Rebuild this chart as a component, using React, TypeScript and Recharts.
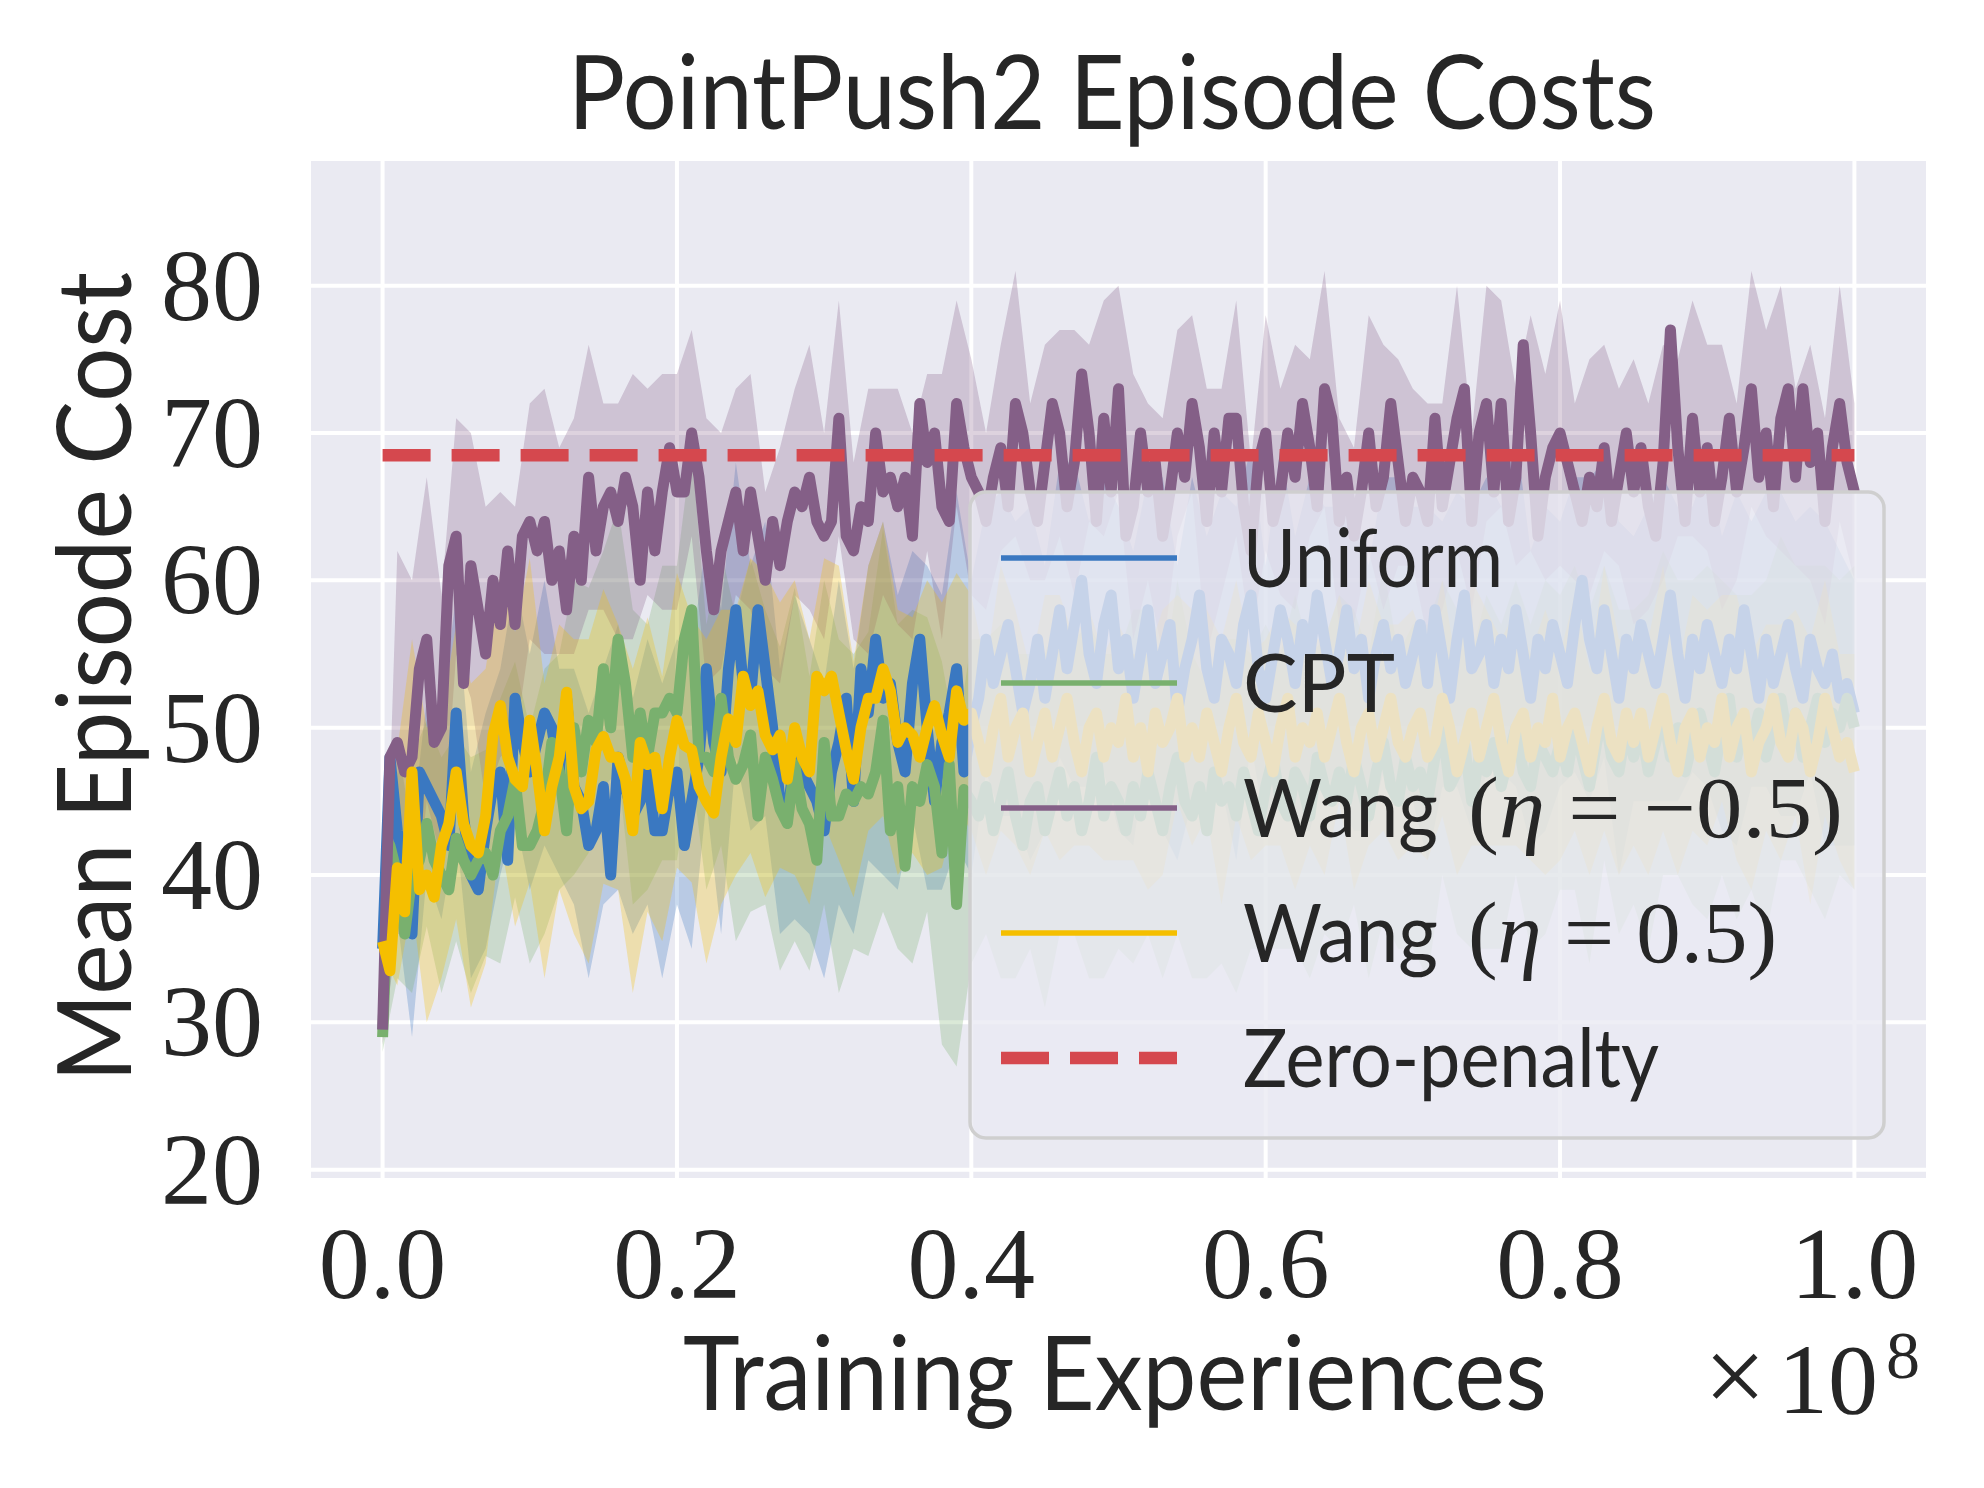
import {
  ComposedChart,
  Line,
  Area,
  XAxis,
  YAxis,
  CartesianGrid,
  Legend,
} from "recharts";

// Mean curves are sampled every 0.005 (x 1e8), std bands every 0.01.
const X_STEP = 0.005;
const BAND_STEP = 0.01;

const uniformMean = [
  35, 48, 43, 40, 36, 47, 46, 45, 44, 42,
  51, 44, 40, 39, 43, 46, 47, 41, 52, 49,
  47, 49, 51, 50, 47, 52, 46, 45, 42, 43,
  46, 40, 48, 46, 44, 45, 47, 43, 43, 46,
  47, 42, 45, 48, 54, 49, 47, 54, 58, 53,
  52, 58, 54, 50, 45, 44, 48, 47, 46, 45,
  43, 47, 49, 52, 45, 54, 51, 56, 52, 53,
  49, 47, 53, 56, 50, 45, 49, 51, 54, 47,
  50, 52, 56, 53, 55, 57, 54, 51, 53, 56,
  52, 55, 58, 54, 57, 60, 55, 53, 57, 59,
  54, 56, 52, 55, 58, 53, 55, 57, 51, 54,
  56, 59, 54, 52, 56, 55, 53, 57, 59, 54,
  52, 55, 58, 56, 53, 57, 55, 59, 56, 53,
  55, 58, 54, 56, 52, 55, 57, 54, 56, 53,
  55, 57, 53, 58, 55, 52, 56, 59, 54, 55,
  57, 53, 56, 54, 58, 55, 52, 56, 54, 57,
  55, 53, 57, 60, 56, 54, 58, 55, 52, 56,
  54, 57, 55, 53, 56, 59, 55, 52, 56, 54,
  57, 55, 53, 56, 54, 58, 55, 52, 56, 53,
  55, 57, 54, 52, 56, 54, 53, 55, 52, 53,
  51,
];

const cptMean = [
  29, 42, 40, 36, 40, 41, 43.5, 41, 40, 39,
  42.5, 41, 40, 41, 41.5, 40, 43, 44, 46.5, 42,
  42, 43, 45, 49, 47, 43, 50, 47, 50.5, 49,
  54, 50, 56, 53, 48, 51, 48, 51, 51, 52,
  51, 56, 58, 48, 48, 47, 52, 48, 46.5, 47.5,
  49.5, 44, 48, 46.5, 44.5, 43.5, 47.5, 44.5, 43.5, 41,
  49, 44, 44, 45.5, 45, 46, 45.5, 47, 50.5, 43,
  46, 40.6, 46, 45, 47.5, 46, 41.5, 47.5, 38, 45.8,
  45, 44, 46, 43, 45, 47, 44, 42, 45, 46,
  43, 45, 47, 44, 46, 43, 45, 48, 44, 46,
  45, 43, 46, 44, 47, 45, 43, 46, 48, 45,
  44, 46, 43, 47, 45, 46, 44, 47, 45, 43,
  46, 48, 45, 44, 47, 46, 44, 48, 46, 45,
  47, 45, 48, 46, 44, 47, 49, 46, 45, 48,
  46, 47, 45, 48, 50, 46, 47, 49, 45, 48,
  47, 49, 46, 48, 50, 47, 46, 49, 48, 47,
  49, 47, 50, 48, 46, 49, 51, 48, 47, 50,
  48, 50, 47, 49, 51, 48, 50, 47, 49, 51,
  49, 47, 50, 52, 48, 50, 49, 51, 48, 50,
  52, 49, 51, 48, 50, 52, 49, 51, 50, 52,
  50,
];

const wangNegMean = [
  29.5, 48, 49, 47, 48, 54, 56, 49, 50, 61,
  63, 53, 61, 58, 55, 60, 57, 62, 57, 63,
  64, 62, 64, 60, 62, 58, 63, 60, 67, 62,
  65, 66, 64, 67, 65, 60, 66, 62, 66, 69,
  66, 66, 70, 67, 62, 58, 62, 64, 66, 62,
  66, 63, 60, 64, 61, 64, 66, 65, 67, 64,
  63, 64, 71, 63, 62, 65, 64, 70, 66, 67,
  65, 67, 63, 72, 68, 70, 65, 64, 72, 69,
  67, 66, 64, 67, 69, 65, 72, 70, 66, 64,
  68, 72, 70, 65, 68, 74, 70, 64, 71, 66,
  73, 63, 65, 70, 66, 68, 63, 66, 70, 67,
  72, 69, 64, 70, 66, 71, 71, 65, 62, 68,
  70, 64, 66, 70, 67, 72, 69, 65, 73, 71,
  64, 67, 63, 66, 70, 65, 67, 72, 68, 64,
  67, 66, 64, 71, 65, 68, 71, 73, 64, 70,
  72, 66, 72, 64, 67, 76, 70, 63, 67, 69,
  70, 68, 66, 64, 67, 65, 69, 64, 67, 70,
  66, 69, 65, 63, 68, 77, 69, 64, 71, 66,
  69, 64, 67, 71, 66, 69, 73, 67, 70, 65,
  71, 73, 67, 73, 68, 70, 64, 69, 72, 68,
  66,
];

const wangPosMean = [
  35.5, 33.5, 40.5, 37.5, 47, 39, 40, 38.5, 42, 43.5,
  47, 43.5, 42, 41.5, 44, 49.5, 51.5, 48, 46.5, 46,
  50.5, 47, 43, 46, 48, 52.4, 46, 44.5, 45, 48.5,
  49.4, 48, 48, 46.5, 43, 49, 47.5, 48, 44.5, 48,
  50.5, 48.8, 48.5, 46, 45, 44.2, 48, 50.6, 49, 53.5,
  51.5, 52.5, 49.5, 48.5, 49.5, 46.5, 50, 48, 47, 53.5,
  52.5, 53.5, 51, 48.5, 46.5, 50, 52, 52, 54, 52.5,
  49, 50, 49.5, 48, 50, 51.5, 49.5, 48, 52.5, 50.5,
  51, 49, 47, 50, 52, 48, 50, 51, 47, 49,
  51, 48, 50, 52, 49, 47, 50, 51, 48, 50,
  49, 52, 48, 50, 47, 51, 49, 50, 52, 48,
  50, 48, 51, 49, 47, 50, 52, 49, 48, 51,
  49, 47, 50, 52, 48, 50, 49, 51, 48, 50,
  52, 49, 47, 50, 51, 48, 50, 52, 49, 48,
  50, 51, 48, 49, 52, 50, 47, 49, 51, 48,
  50, 52, 49, 47, 50, 51, 48, 50, 49, 52,
  48, 50, 51, 49, 47, 50, 52, 49, 48, 51,
  49, 51, 48, 50, 52, 49, 47, 50, 51, 48,
  50, 49, 52, 48, 50, 51, 47, 49, 50, 52,
  49, 48, 51, 50, 47, 49, 52, 50, 48, 49,
  47,
];

// std around the mean, one value per 0.01
const uniformStd = [
  1, 6, 7, 6, 7, 8, 7, 8, 7, 8,
  8, 9, 7, 8, 9, 8, 9, 8, 9, 10,
  9, 10, 9, 11, 10, 9, 10, 9, 11, 10,
  10, 11, 9, 10, 12, 10, 9, 11, 10, 12,
  10, 9, 11, 10, 12, 9, 10, 11, 9, 10,
  11, 10, 9, 12, 10, 11, 9, 10, 12, 10,
  9, 11, 10, 12, 9, 10, 11, 9, 10, 11,
  10, 12, 9, 10, 11, 10, 9, 12, 10, 11,
  9, 10, 11, 10, 12, 9, 10, 11, 10, 9,
  11, 10, 12, 9, 10, 11, 10, 9, 11, 10,
  9,
];

const cptStd = [
  1, 7, 8, 7, 8, 7, 8, 7, 9, 8,
  8, 9, 8, 10, 9, 8, 9, 10, 9, 10,
  10, 11, 9, 10, 11, 12, 10, 11, 12, 10,
  11, 12, 10, 11, 13, 11, 12, 10, 13, 11,
  11, 10, 12, 11, 10, 12, 11, 10, 12, 11,
  10, 12, 11, 10, 12, 11, 10, 11, 12, 10,
  11, 10, 12, 11, 10, 12, 10, 11, 12, 10,
  11, 12, 10, 11, 10, 12, 11, 10, 11, 12,
  10, 11, 12, 10, 11, 10, 12, 11, 10, 11,
  12, 10, 11, 10, 12, 11, 10, 11, 12, 10,
  11,
];

const wangNegStd = [
  1, 13, 12, 11, 9, 8, 9, 10, 9, 8,
  8, 9, 7, 8, 9, 7, 8, 9, 7, 8,
  8, 7, 9, 8, 7, 8, 6, 8, 7, 9,
  7, 8, 6, 9, 7, 8, 7, 6, 9, 7,
  8, 6, 7, 9, 6, 8, 7, 9, 6, 8,
  7, 9, 6, 8, 7, 6, 9, 7, 8, 6,
  8, 7, 9, 6, 8, 7, 6, 8, 9, 7,
  6, 8, 7, 9, 6, 8, 7, 6, 8, 7,
  9, 6, 8, 7, 6, 9, 7, 8, 6, 8,
  7, 9, 6, 8, 7, 9, 6, 8, 7, 8,
  6,
];

const wangPosStd = [
  1, 8, 9, 10, 9, 10, 11, 10, 9, 10,
  11, 10, 9, 10, 11, 10, 9, 11, 10, 9,
  10, 9, 11, 10, 9, 10, 11, 9, 10, 9,
  9, 10, 8, 9, 10, 9, 8, 10, 9, 8,
  8, 7, 9, 8, 7, 8, 9, 7, 8, 7,
  8, 7, 8, 9, 7, 8, 7, 9, 8, 7,
  7, 8, 9, 7, 8, 7, 8, 9, 7, 8,
  8, 7, 8, 7, 9, 8, 7, 8, 7, 9,
  7, 8, 7, 9, 8, 7, 8, 9, 7, 8,
  8, 7, 9, 8, 7, 8, 7, 9, 8, 7,
  8,
];

const ZERO_PENALTY = 68.5;
const xTicks = [0, 0.2, 0.4, 0.6, 0.8, 1.0];
const yTicks = [20, 30, 40, 50, 60, 70, 80];

const COLORS = {
  uniform: "#3a78c1",
  cpt: "#79b06e",
  wangNeg: "#845f87",
  wangPos: "#f5bf00",
  zero: "#d5484e",
  bg: "#eaeaf2",
  text: "#262626",
};

const SANS = "Lato, 'Open Sans', sans-serif";
const SERIF = "'Liberation Serif', 'DejaVu Serif', serif";

const SERIES = [
  { key: "uniform", color: COLORS.uniform, mean: uniformMean, std: uniformStd },
  { key: "cpt", color: COLORS.cpt, mean: cptMean, std: cptStd },
  { key: "wangNeg", color: COLORS.wangNeg, mean: wangNegMean, std: wangNegStd },
  { key: "wangPos", color: COLORS.wangPos, mean: wangPosMean, std: wangPosStd },
];

const rows = uniformMean.map((_, i) => ({
  x: +(i * X_STEP).toFixed(3),
  uniform: uniformMean[i],
  cpt: cptMean[i],
  wangNeg: wangNegMean[i],
  wangPos: wangPosMean[i],
}));

// band samples sit on every other mean sample
function bandRows(mean: number[], std: number[]) {
  return std.map((s, k) => ({
    x: +(k * BAND_STEP).toFixed(2),
    band: [mean[2 * k] - s, mean[2 * k] + s],
  }));
}

const zeroRows = [
  { x: 0, y: ZERO_PENALTY },
  { x: 1, y: ZERO_PENALTY },
];

function XTick(props: any) {
  const { x, y, payload } = props;
  return (
    <text x={x} y={y + 118} textAnchor="middle" fontFamily={SERIF} fontSize={102} fill={COLORS.text}>
      {Number(payload.value).toFixed(1)}
    </text>
  );
}

function YTick(props: any) {
  const { x, y, payload } = props;
  return (
    <text x={x} y={y + 34} textAnchor="end" fontFamily={SERIF} fontSize={102} fill={COLORS.text}>
      {payload.value}
    </text>
  );
}

function MathLabel({ x, y, eta, width }: { x: number; y: number; eta: string; width: number }) {
  return (
    <text x={x} y={y} fontFamily={SERIF} fontSize={86} fill={COLORS.text} textLength={width} lengthAdjust="spacingAndGlyphs">
      (<tspan fontStyle="italic">η</tspan> = {eta})
    </text>
  );
}

function LegendBox() {
  const rowY = (i: number) => 68 + i * 125;
  const textX = 275;
  return (
    <svg width={918} height={650} style={{ display: "block" }}>
      <rect x={2} y={2} width={914} height={646} rx={16} ry={16} fill={COLORS.bg} fillOpacity={0.8} stroke="#cfcfcf" strokeWidth={3.5} />
      <line x1={33} x2={209} y1={rowY(0)} y2={rowY(0)} stroke={COLORS.uniform} strokeWidth={5.6} />
      <text x={textX} y={rowY(0) + 29} fontFamily={SANS} fontSize={82} fill={COLORS.text} textLength={260} lengthAdjust="spacingAndGlyphs">Uniform</text>
      <line x1={33} x2={209} y1={rowY(1)} y2={rowY(1)} stroke={COLORS.cpt} strokeWidth={5.6} />
      <text x={textX} y={rowY(1) + 29} fontFamily={SANS} fontSize={82} fill={COLORS.text} textLength={152} lengthAdjust="spacingAndGlyphs">CPT</text>
      <line x1={33} x2={209} y1={rowY(2)} y2={rowY(2)} stroke={COLORS.wangNeg} strokeWidth={5.6} />
      <text x={textX} y={rowY(2) + 29} fontFamily={SANS} fontSize={82} fill={COLORS.text} textLength={195} lengthAdjust="spacingAndGlyphs">Wang</text>
      <MathLabel x={500} y={rowY(2) + 29} eta="−0.5" width={375} />
      <line x1={33} x2={209} y1={rowY(3)} y2={rowY(3)} stroke={COLORS.wangPos} strokeWidth={5.6} />
      <text x={textX} y={rowY(3) + 29} fontFamily={SANS} fontSize={82} fill={COLORS.text} textLength={195} lengthAdjust="spacingAndGlyphs">Wang</text>
      <MathLabel x={500} y={rowY(3) + 29} eta="0.5" width={309} />
      <line x1={33} x2={209} y1={rowY(4)} y2={rowY(4)} stroke={COLORS.zero} strokeWidth={12.7} strokeDasharray="48 21" />
      <text x={textX} y={rowY(4) + 29} fontFamily={SANS} fontSize={82} fill={COLORS.text} textLength={416} lengthAdjust="spacingAndGlyphs">Zero-penalty</text>
    </svg>
  );
}

export default function App() {
  return (
    <div style={{ position: "absolute", left: 0, top: 0, width: 1984, height: 1488, background: "#fff" }}>
      <ComposedChart
        width={1984}
        height={1488}
        data={rows}
        margin={{ top: 159, right: 56, bottom: 178, left: 209 }}
      >
        <CartesianGrid stroke="#ffffff" strokeWidth={4} fill={COLORS.bg} fillOpacity={1} />
        <XAxis
          type="number"
          dataKey="x"
          domain={[-0.05, 1.05]}
          ticks={xTicks}
          tick={XTick}
          axisLine={false}
          tickLine={false}
          tickSize={0}
          tickMargin={0}
          height={130}
          interval={0}
          allowDataOverflow
        />
        <YAxis
          type="number"
          domain={[19.3, 88.6]}
          ticks={yTicks}
          tick={YTick}
          axisLine={false}
          tickLine={false}
          tickSize={0}
          tickMargin={46}
          width={100}
          interval={0}
          allowDataOverflow
        />
        {SERIES.map((s) => [
          <Area
            key={s.key + "-band"}
            data={bandRows(s.mean, s.std)}
            dataKey="band"
            type="linear"
            stroke="none"
            fill={s.color}
            fillOpacity={0.28}
            isAnimationActive={false}
            legendType="none"
          />,
          <Line
            key={s.key + "-mean"}
            dataKey={s.key}
            type="linear"
            stroke={s.color}
            strokeWidth={11}
            strokeLinejoin="round"
            dot={false}
            isAnimationActive={false}
          />,
        ])}
        <Line
          data={zeroRows}
          dataKey="y"
          type="linear"
          stroke={COLORS.zero}
          strokeWidth={12.5}
          strokeDasharray="48 21"
          strokeLinecap="butt"
          dot={false}
          isAnimationActive={false}
        />
        <Legend
          layout="horizontal"
          verticalAlign="middle"
          align="center"
          content={LegendBox}
          wrapperStyle={{ left: 968, top: 490, width: 918, height: 650, lineHeight: 0 }}
        />
        <text x={1112} y={129} textAnchor="middle" fontFamily={SANS} fontSize={102} fill={COLORS.text} textLength={1088} lengthAdjust="spacingAndGlyphs">
          PointPush2 Episode Costs
        </text>
        <text x={1115} y={1410} textAnchor="middle" fontFamily={SANS} fontSize={102} fill={COLORS.text} textLength={864} lengthAdjust="spacingAndGlyphs">
          Training Experiences
        </text>
        <text x={131} y={677} transform="rotate(-90 131 677)" textAnchor="middle" fontFamily={SANS} fontSize={102} fill={COLORS.text} textLength={810} lengthAdjust="spacingAndGlyphs">
          Mean Episode Cost
        </text>
        <text x={1704} y={1413} fontFamily={SERIF} fontSize={100} fill={COLORS.text}>
          <tspan fontSize={110}>×</tspan>
          <tspan x={1778}>10</tspan>
          <tspan x={1886} y={1378} fontSize={68}>8</tspan>
        </text>
      </ComposedChart>
    </div>
  );
}
